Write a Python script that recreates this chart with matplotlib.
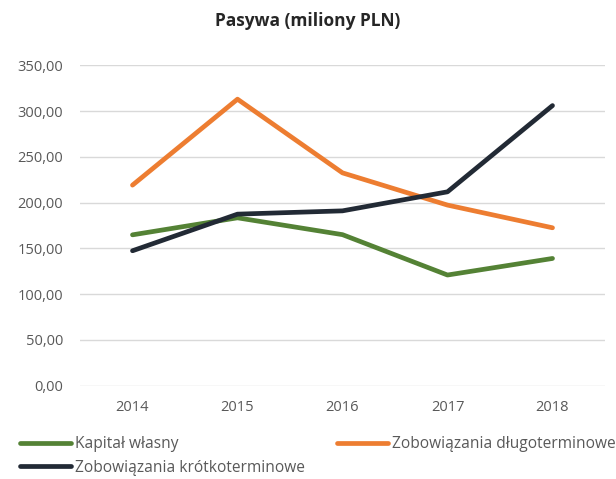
import numpy as np
import matplotlib
matplotlib.use('Agg')
from matplotlib import pyplot as plt
from matplotlib.ticker import FuncFormatter
from matplotlib.lines import Line2D

plt.rcParams['font.family'] = ['Open Sans', 'DejaVu Sans']

years = ['2014', '2015', '2016', '2017', '2018']
kapital = [164.8, 183.4, 165.0, 120.9, 139.0]
dlugo = [219.1, 313.0, 232.5, 197.3, 172.5]
krotko = [147.4, 187.4, 191.0, 211.8, 306.0]

c_green = '#548235'
c_orange = '#ED7D31'
c_dark = '#222A35'
txt = '#595959'

fig = plt.figure(figsize=(6.16, 4.79), dpi=100)
ax = fig.add_axes([80/616, 1-385.7/479, 525/616, (385.7-65.3)/479])

x = np.arange(len(years))
lw = 3.4
ax.plot(x, kapital, color=c_green, lw=lw, solid_capstyle='round', solid_joinstyle='round', zorder=3)
ax.plot(x, dlugo, color=c_orange, lw=lw, solid_capstyle='round', solid_joinstyle='round', zorder=3)
ax.plot(x, krotko, color=c_dark, lw=lw, solid_capstyle='round', solid_joinstyle='round', zorder=4)

ax.set_xlim(-0.5, 4.5)
ax.set_ylim(0, 350)
ax.set_yticks(np.arange(0, 351, 50))
ax.yaxis.set_major_formatter(FuncFormatter(lambda v, p: f'{v:.2f}'.replace('.', ',')))
ax.set_xticks(x)
ax.set_xticklabels(years)
ax.grid(axis='y', color='#D9D9D9', lw=1.0)
ax.set_axisbelow(True)
for s in ax.spines.values():
    s.set_visible(False)
ax.tick_params(axis='y', length=0, pad=12, labelsize=10.5, labelcolor=txt)
ax.tick_params(axis='x', length=0, pad=10, labelsize=10.5, labelcolor=txt)

fig.text(308/616, 1-21/479, 'Pasywa (miliony PLN)', ha='center', va='center',
         fontsize=12.5, fontweight='bold', color='#262626')

h_green = Line2D([], [], color=c_green, lw=lw, solid_capstyle='round')
h_orange = Line2D([], [], color=c_orange, lw=lw, solid_capstyle='round')
h_dark = Line2D([], [], color=c_dark, lw=lw, solid_capstyle='round')

leg_kw = dict(frameon=False, fontsize=11.2, labelcolor=txt, handlelength=3.3,
              handletextpad=0.25, borderpad=0, borderaxespad=0, labelspacing=0.5)
leg1 = fig.legend([h_green, h_dark], ['Kapitał własny', 'Zobowiązania krótkoterminowe'],
                  loc='upper left', bbox_to_anchor=(20/616, 1-436/479), **leg_kw)
leg2 = fig.legend([h_orange], ['Zobowiązania długoterminowe'],
                  loc='upper left', bbox_to_anchor=(337/616, 1-436/479), **leg_kw)

fig.savefig('out.png', dpi=100, facecolor='w')
